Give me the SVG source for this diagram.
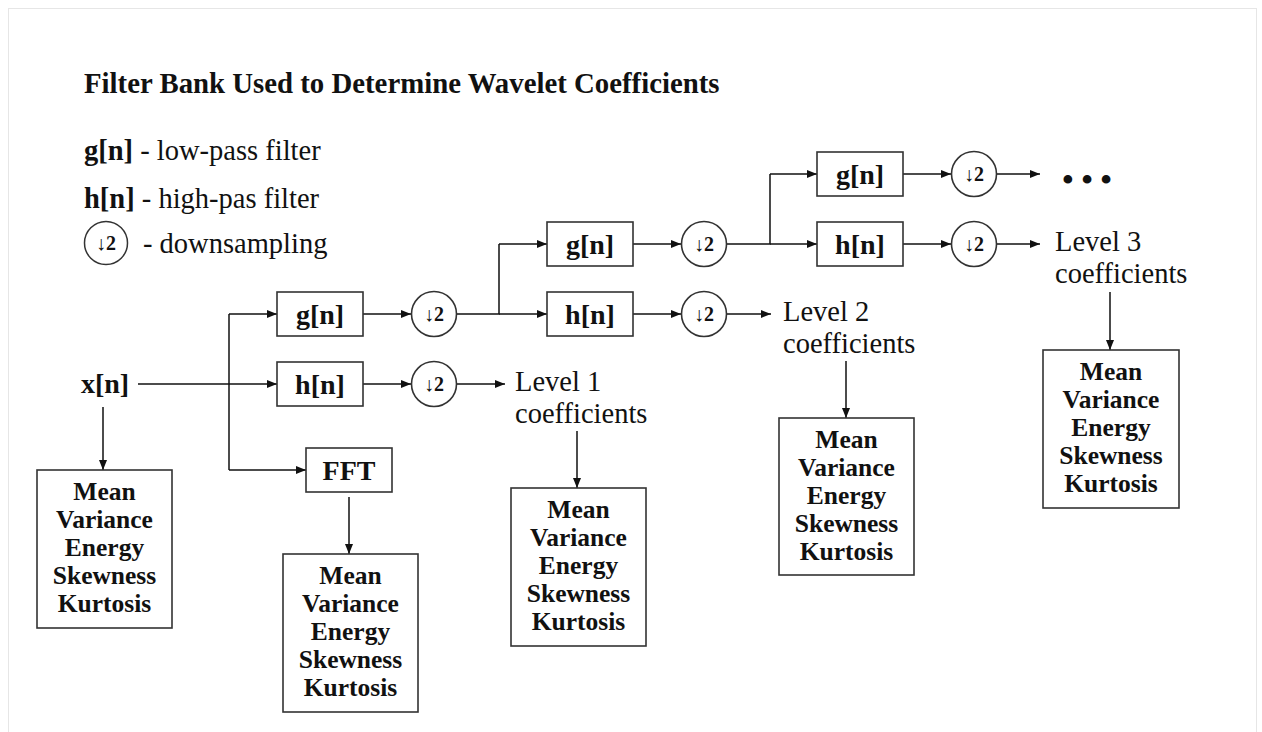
<svg xmlns="http://www.w3.org/2000/svg" width="1262" height="732" viewBox="0 0 1262 732" font-family="'Liberation Serif', 'Times New Roman', 'DejaVu Serif', serif">
<defs>
<marker id="ah" markerUnits="userSpaceOnUse" markerWidth="10" markerHeight="8" refX="10" refY="4" orient="auto">
<path d="M0,0 L10,4 L0,8 z" fill="#111"/>
</marker>
<style>
text{font-family:'Liberation Serif','Times New Roman','DejaVu Serif',serif;fill:#111}
.b{font-weight:bold}
.box{fill:#fff;stroke:#333;stroke-width:1.6}
.ln{fill:none;stroke:#111;stroke-width:1.5}
.ar{fill:none;stroke:#111;stroke-width:1.5;marker-end:url(#ah)}
.lbl{font-size:28px;font-weight:bold;text-anchor:middle}
.ds{font-size:20px;font-weight:bold;text-anchor:middle}
.st{font-size:25.5px;font-weight:bold;text-anchor:middle}
.nm{font-size:28.5px}
</style>
</defs>
<rect x="0" y="0" width="1262" height="732" fill="#fff"/>
<rect x="8.5" y="8.5" width="1248" height="740" fill="none" stroke="#e6e6e6" stroke-width="1"/>

<g id="title">
<text class="b" x="84" y="93" font-size="28.8">Filter Bank Used to Determine Wavelet Coefficients</text>
</g>

<g id="legend">
<text class="nm" x="84" y="160"><tspan font-weight="bold">g[n]</tspan> - low-pass filter</text>
<text class="nm" x="84" y="208"><tspan font-weight="bold">h[n]</tspan> - high-pas filter</text>
<circle cx="106" cy="243" r="21.5" fill="#fff" stroke="#333" stroke-width="1.5"/>
<text class="ds" x="106" y="250">↓2</text>
<text class="nm" x="143" y="253">- downsampling</text>
</g>

<g id="connectors">
<path class="ar" d="M138,384 H277"/>
<path class="ln" d="M229,314 V470"/>
<path class="ar" d="M229,314 H277"/>
<path class="ar" d="M229,470 H306"/>
<path class="ar" d="M363,314 H411"/>
<path class="ar" d="M363,384 H411"/>
<path class="ar" d="M456,384 H505"/>
<path class="ln" d="M456,314 H499 V244"/>
<path class="ar" d="M499,314 H547"/>
<path class="ar" d="M499,244 H547"/>
<path class="ar" d="M632,244 H681"/>
<path class="ar" d="M632,314 H681"/>
<path class="ar" d="M727,314 H771"/>
<path class="ln" d="M727,244 H770 V174"/>
<path class="ar" d="M770,244 H817"/>
<path class="ar" d="M770,174 H817"/>
<path class="ar" d="M903,174 H951"/>
<path class="ar" d="M903,244 H951"/>
<path class="ar" d="M996,174 H1040"/>
<path class="ar" d="M996,244 H1040"/>
<path class="ar" d="M103,407 V470"/>
<path class="ar" d="M349,497 V554"/>
<path class="ar" d="M577,431 V488"/>
<path class="ar" d="M846,361 V418"/>
<path class="ar" d="M1110,292 V350"/>
</g>

<g id="xn"><text class="lbl" x="105" y="393">x[n]</text></g>

<g id="g1"><rect class="box" x="277" y="292" width="86" height="44"/><text class="lbl" x="320" y="324">g[n]</text></g>
<g id="h1"><rect class="box" x="277" y="362" width="86" height="44"/><text class="lbl" x="320" y="394">h[n]</text></g>
<g id="fft"><rect class="box" x="306" y="448" width="86" height="44"/><text class="lbl" x="349" y="480">FFT</text></g>
<g id="d1g"><circle class="box" cx="434" cy="314" r="22.5"/><text class="ds" x="434" y="321">↓2</text></g>
<g id="d1h"><circle class="box" cx="434" cy="384" r="22.5"/><text class="ds" x="434" y="391">↓2</text></g>

<g id="g2"><rect class="box" x="547" y="222" width="86" height="44"/><text class="lbl" x="590" y="254">g[n]</text></g>
<g id="h2"><rect class="box" x="547" y="292" width="86" height="44"/><text class="lbl" x="590" y="324">h[n]</text></g>
<g id="d2g"><circle class="box" cx="704" cy="244" r="22.5"/><text class="ds" x="704" y="251">↓2</text></g>
<g id="d2h"><circle class="box" cx="704" cy="314" r="22.5"/><text class="ds" x="704" y="321">↓2</text></g>

<g id="g3"><rect class="box" x="817" y="152" width="86" height="44"/><text class="lbl" x="860" y="184">g[n]</text></g>
<g id="h3"><rect class="box" x="817" y="222" width="86" height="44"/><text class="lbl" x="860" y="254">h[n]</text></g>
<g id="d3g"><circle class="box" cx="974" cy="174" r="22.5"/><text class="ds" x="974" y="181">↓2</text></g>
<g id="d3h"><circle class="box" cx="974" cy="244" r="22.5"/><text class="ds" x="974" y="251">↓2</text></g>

<g id="dots"><text class="b" x="1087" y="190" font-size="32" text-anchor="middle">• • •</text></g>

<g id="level1"><text class="nm" x="515" y="391">Level 1</text><text class="nm" x="515" y="423">coefficients</text></g>
<g id="level2"><text class="nm" x="783" y="321">Level 2</text><text class="nm" x="783" y="353">coefficients</text></g>
<g id="level3"><text class="nm" x="1055" y="251">Level 3</text><text class="nm" x="1055" y="283">coefficients</text></g>

<g id="stats0"><rect class="box" x="37" y="470" width="135" height="158"/>
<text class="st" x="104.5" y="500">Mean</text><text class="st" x="104.5" y="528">Variance</text><text class="st" x="104.5" y="556">Energy</text><text class="st" x="104.5" y="584">Skewness</text><text class="st" x="104.5" y="612">Kurtosis</text></g>
<g id="statsF"><rect class="box" x="283" y="554" width="135" height="158"/>
<text class="st" x="350.5" y="584">Mean</text><text class="st" x="350.5" y="612">Variance</text><text class="st" x="350.5" y="640">Energy</text><text class="st" x="350.5" y="668">Skewness</text><text class="st" x="350.5" y="696">Kurtosis</text></g>
<g id="stats1"><rect class="box" x="511" y="488" width="135" height="158"/>
<text class="st" x="578.5" y="518">Mean</text><text class="st" x="578.5" y="546">Variance</text><text class="st" x="578.5" y="574">Energy</text><text class="st" x="578.5" y="602">Skewness</text><text class="st" x="578.5" y="630">Kurtosis</text></g>
<g id="stats2"><rect class="box" x="779" y="418" width="135" height="157"/>
<text class="st" x="846.5" y="448">Mean</text><text class="st" x="846.5" y="476">Variance</text><text class="st" x="846.5" y="504">Energy</text><text class="st" x="846.5" y="532">Skewness</text><text class="st" x="846.5" y="560">Kurtosis</text></g>
<g id="stats3"><rect class="box" x="1043" y="350" width="136" height="158"/>
<text class="st" x="1111" y="380">Mean</text><text class="st" x="1111" y="408">Variance</text><text class="st" x="1111" y="436">Energy</text><text class="st" x="1111" y="464">Skewness</text><text class="st" x="1111" y="492">Kurtosis</text></g>
</svg>
